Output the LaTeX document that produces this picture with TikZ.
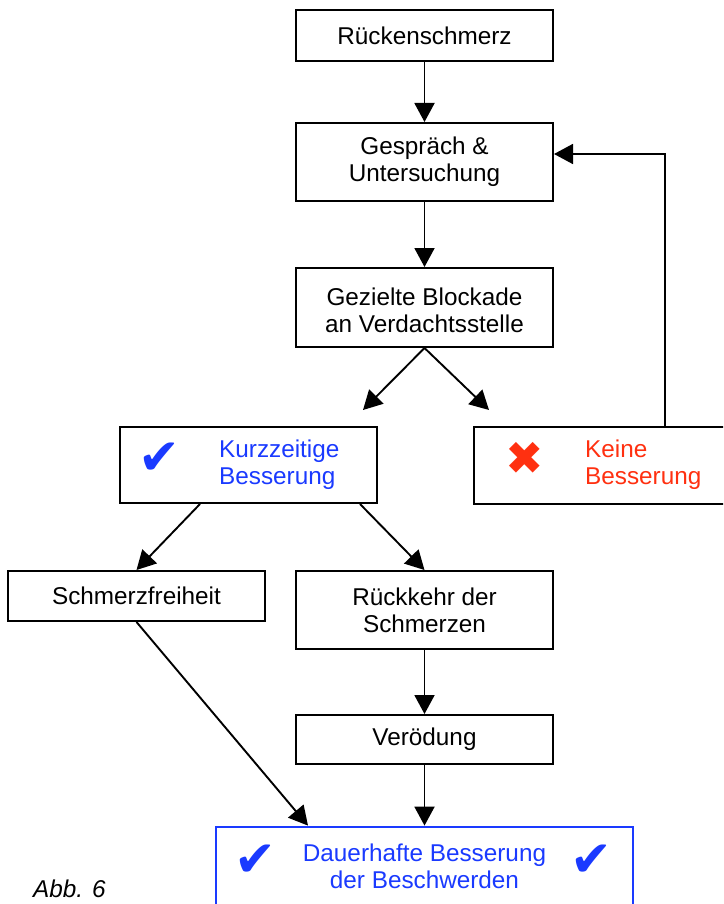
\documentclass[tikz,border=0pt]{standalone}
\usepackage{fontspec}
\setmainfont{Liberation Sans}
\newfontfamily\symfont{DejaVu Sans}
\usetikzlibrary{arrows.meta}
\definecolor{myblue}{RGB}{26,58,255}
\definecolor{myred}{RGB}{255,48,16}
\tikzset{
  box/.style={draw=black, line width=2pt, fill=white, minimum width=257pt, inner sep=0pt},
  txt/.style={font=\fontsize{24.3}{27}\selectfont, align=center, inner sep=0pt},
  arr/.style={line width=1.9pt, -{Triangle[length=19pt,width=20pt]}},
  sym/.style={inner sep=0pt, font=\symfont\fontsize{50}{50}\selectfont}
}
\begin{document}
\begin{tikzpicture}[x=1pt,y=-1pt]
\clip (0,0) rectangle (723,904);
\fill[white] (0,0) rectangle (723,904);
% boxes
\node[box, minimum height=51pt] (rs) at (424.5,35.5) {};
\node[txt] at (rs) {Rückenschmerz};
\node[box, minimum height=78pt] (gesp) at (424.5,162) {};
\node[txt] at (424.5,162) {Gespräch \&\\Untersuchung};
\node[box, minimum height=79pt] (gez) at (424.5,307.5) {};
\node[txt] at (424.5,310) {Gezielte Blockade\\an Verdachtsstelle};
\node[box, minimum height=76pt] (kurz) at (248.5,465) {};
\node[sym, text=myblue] (ck1) at (159,459) {✔};
\node[txt, align=left, anchor=west, text=myblue] at (219,465) {Kurzzeitige\\Besserung};
\node[box, minimum height=77pt] (keine) at (602,465.5) {};
\node[sym, text=myred, font=\symfont\fontsize{46}{46}\selectfont] (x1) at (525,458) {✖};
\node[txt, align=left, anchor=west, text=myred] at (585,465) {Keine\\Besserung};
\node[box, minimum height=50pt] (schm) at (136.5,596) {};
\node[txt] at (schm) {Schmerzfreiheit};
\node[box, minimum height=78pt] (rueck) at (424.5,610) {};
\node[txt] at (424.5,610) {Rückkehr der\\Schmerzen};
\node[box, minimum height=49pt] (ver) at (424.5,739.5) {};
\node[txt] at (ver) {Verödung};
\node[box, draw=myblue, line width=2.8pt, minimum width=417pt, minimum height=90pt] (daue) at (424.5,872) {};
\node[sym, text=myblue] (ck2) at (255,861) {✔};
\node[sym, text=myblue] (ck3) at (591,861) {✔};
\node[txt, text=myblue] at (424.5,866) {Dauerhafte Besserung\\der Beschwerden};
\node[txt, font=\itshape\fontsize{24.3}{27}\selectfont, anchor=west] (abb) at (33,889) {Abb. 6};
% coordinates
\coordinate (tipL) at (363,410);
\coordinate (tipR) at (489,410);
% connectors
\draw[arr] (rs.south) -- (gesp.north);
\draw[arr] (gesp.south) -- (gez.north);
\draw[arr] (gez.south) -- (tipL);
\draw[arr] (gez.south) -- (tipR);
\draw[arr] ([xshift=-48.5pt]kurz.south) -- (schm.north);
\draw[arr] ([xshift=111.5pt]kurz.south) -- (rueck.north);
\draw[arr] (schm.south) -- ([xshift=-116.5pt]daue.north);
\draw[arr] (rueck.south) -- (ver.north);
\draw[arr] (ver.south) -- (daue.north);
\draw[arr, line width=1.6pt] ([xshift=63pt]keine.north) |- ([yshift=8pt]gesp.east);
\end{tikzpicture}
\end{document}
